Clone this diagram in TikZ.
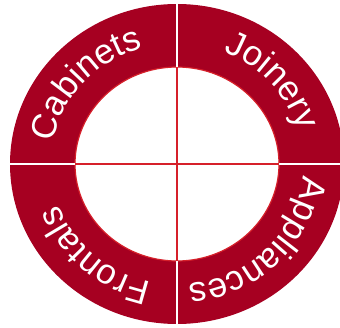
\documentclass[tikz,border=0pt]{standalone}
\usepackage{fontspec}
\setmainfont{Liberation Sans}
\usetikzlibrary{calc}
\usetikzlibrary{decorations.text}
\definecolor{ringred}{RGB}{166,0,33}
\definecolor{crossred}{RGB}{214,32,42}
\newcommand{\ringfont}{\fontsize{35}{42}\selectfont}
\tikzset{
  divider/.style={white, line width=2.5pt},
  crossline/.style={crossred, line width=2pt},
  ringlabel/.style={decorate, decoration={text along path, text align=center, text color=white, text={|\ringfont|#1}}}
}

\begin{document}
\begin{tikzpicture}[x=1pt,y=1pt]
\useasboundingbox (0,0) rectangle (340,327);
\coordinate (c) at (177,163);
% ends of the four spokes, inner and outer edge of the ring
\coordinate (iw) at (75,163);
\coordinate (ow) at (8,163);
\coordinate (ie) at (279,163);
\coordinate (oe) at (346,163);
\coordinate (in) at (177,260);
\coordinate (on) at (177,325);
\coordinate (is) at (177,66);
\coordinate (os) at (177,1);
\fill[ringred, even odd rule] (c) ellipse[x radius=167, y radius=160] (c) ellipse[x radius=102, y radius=97];
\draw[crossred, line width=1.2pt] (c) ellipse[x radius=102, y radius=97];
\draw[crossline] (iw) -- (ie);
\draw[crossline] (in) -- (is);
\draw[divider] (iw) -- (ow);
\draw[divider] (ie) -- (oe);
\draw[divider] (in) -- (on);
\draw[divider] (is) -- (os);
\path[ringlabel=Cabinets] ($(c)+(188:126 and 120.7)$) arc[start angle=188, end angle=88, x radius=126, y radius=120.7];
\path[ringlabel=Joinery] ($(c)+(91.5:126 and 120.7)$) arc[start angle=91.5, end angle=-8.5, x radius=126, y radius=120.7];
\path[ringlabel=Appliances] ($(c)+(5:126 and 120.7)$) arc[start angle=5, end angle=-95, x radius=126, y radius=120.7];
\path[ringlabel=Frontals] ($(c)+(-81.5:126 and 120.7)$) arc[start angle=-81.5, end angle=-181.5, x radius=126, y radius=120.7];
\end{tikzpicture}
\end{document}
